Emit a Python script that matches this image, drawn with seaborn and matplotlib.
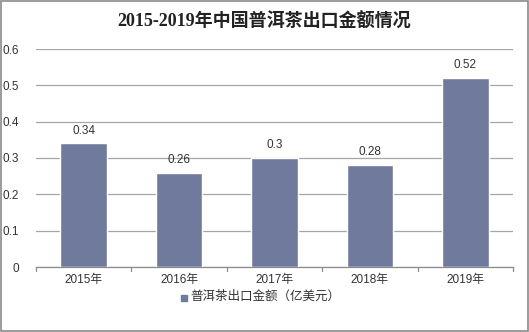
import matplotlib
matplotlib.use("Agg")
import matplotlib.pyplot as plt
import seaborn as sns
import pandas as pd
from matplotlib.patches import Rectangle

years = ["2015年", "2016年", "2017年", "2018年", "2019年"]
export_value = [0.34, 0.26, 0.30, 0.28, 0.52]
value_labels = ["0.34", "0.26", "0.3", "0.28", "0.52"]
y_ticks = [0, 0.1, 0.2, 0.3, 0.4, 0.5, 0.6]
y_tick_labels = ["0", "0.1", "0.2", "0.3", "0.4", "0.5", "0.6"]
title = "2015-2019年中国普洱茶出口金额情况"
series_name = "普洱茶出口金额（亿美元）"

sns.set_theme(style="white")
plt.rcParams["font.family"] = ["Liberation Sans", "Noto Sans CJK SC", "DejaVu Sans"]

bar_color = "#707a9c"
df = pd.DataFrame({"year": years, "value": export_value})

fig = plt.figure(figsize=(5.29, 3.32), dpi=100)
ax = fig.add_axes([36 / 529, 1 - 267 / 332, 477 / 529, 218 / 332])

sns.barplot(data=df, x="year", y="value", color=bar_color, width=0.49,
            saturation=1, ax=ax, zorder=3)

ax.set_ylim(0, 0.6)
ax.set_xlim(-0.5, len(years) - 0.5)
ax.set_yticks(y_ticks)
ax.set_yticklabels(y_tick_labels, fontsize=8.5, color="#333333")
ax.yaxis.grid(True, color="#a6a6a6", linewidth=0.9, zorder=0)
ax.tick_params(axis="y", length=0, pad=12)
ax.tick_params(axis="x", length=0, pad=5, labelsize=8.5, labelcolor="#333333")
ax.set_xlabel("")
ax.set_ylabel("")
for s in ["top", "right", "left"]:
    ax.spines[s].set_visible(False)
ax.spines["bottom"].set_color("#8c8c8c")
ax.spines["bottom"].set_linewidth(0.9)

# short dividers below the category axis
for b in range(len(years) + 1):
    ax.plot([b - 0.5, b - 0.5], [0, -0.012], color="#8c8c8c", lw=0.9,
            clip_on=False, zorder=4)

for i, (v, lab) in enumerate(zip(export_value, value_labels)):
    ax.annotate(lab, (i, v), xytext=(0, 5), textcoords="offset points",
                ha="center", va="bottom", fontsize=8.5, color="#333333")

fig.text(0.5, 1 - 22 / 332, title, ha="center", va="center", fontsize=13,
         fontweight="bold", color="#222222",
         family=["Liberation Serif", "Noto Sans CJK SC"])

# legend
fig.patches.append(Rectangle((181 / 529, 1 - 301 / 332), 6 / 529, 6 / 332,
                             transform=fig.transFigure, color=bar_color))
fig.text(190 / 529, 1 - 297 / 332, series_name, ha="left", va="center",
         fontsize=9, color="#333333")

# outer frame
fig.patches.append(Rectangle((0.002, 0.003), 0.996, 0.994, transform=fig.transFigure,
                             fill=False, edgecolor="#8a8a8a", linewidth=1.2))

fig.savefig("out.png", dpi=100)
